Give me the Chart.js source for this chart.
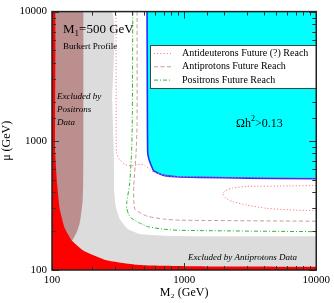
<!DOCTYPE html>
<html>
<head>
<meta charset="utf-8">
<script src="https://cdn.jsdelivr.net/npm/chart.js@4.4.0/dist/chart.umd.min.js"></script>
<style>
  html, body { margin: 0; padding: 0; background: #fff; }
</style>
</head>
<body>
<canvas id="chart" width="334" height="303"></canvas>
<script>
// M1 = 500 GeV panel, Burkert profile. Curves (GeV, GeV)
const SERIF = "'Liberation Serif', 'DejaVu Serif', serif";

const majorTicks = [100, 1000, 10000];

// red band: lowest mu / M2 corner
const lowMuM2 = [100, 105.9, 105.9, 109.6, 114.3, 124.7, 141.6, 172.3, 258.8, 461.5, 1000, 10000];
const lowMuMu = [10000, 10000, 805, 453, 299, 211, 168.4, 141.6, 119, 109.1, 107, 106];

// brown: excluded by positrons data
const posExclM2 = [100, 141.6, 147.8, 155.2, 161.3, 164.7, 168.7, 170.5, 172.6, 173.4, 173.4];
const posExclMu = [150, 168.4, 180.5, 200.3, 226.3, 252.5, 309.5, 337.5, 477.4, 805, 10000];

// grey: excluded by antiprotons data
const pbarExclM2 = [100, 283.8, 286, 293.8, 296, 304.1, 326.1, 374.7, 461.5, 777.7, 10000];
const pbarExclMu = [10000, 10000, 2000, 805, 402, 309.5, 246.9, 207.5, 190.1, 183.7, 182.1];

// cyan: Omega h^2 > 0.13
const relicM2 = [523.9, 527.6, 530.4, 542.5, 565.7, 588.7, 691.8, 873.2, 1309, 3000, 10000];
const relicMu = [10000, 1356, 805, 716.3, 638.8, 585.6, 542.4, 527.6, 521.2, 514, 507.9];

// future reach lines
const dbarM2 = [305, 306, 307.9, 326, 355.6, 399.6, 461.5, 503.4, 549.2, 581.6, 734, 925, 1309, 3000, 10000];
const dbarMu = [10000, 2000, 805, 716, 656.8, 638.8, 656.8, 645.5, 602.1, 575.4, 537, 530, 527, 522, 516];
const dbarIslandM2 = [10000, 6254, 2948, 2335, 2057, 1963, 2057, 2335, 2948, 4173, 6254, 10000];
const dbarIslandMu = [451, 447, 443.3, 430.5, 412, 389.9, 362, 337.5, 318.7, 300.5, 292.2, 287];

const pbarM2 = [440.4, 440.4, 432.8, 415.9, 415.9, 425, 472, 530, 700, 925, 10000];
const pbarMu = [10000, 1356, 805, 453, 337.5, 295, 275, 260, 248, 243, 238.5];

const posM2 = [408.7, 405, 400, 386, 368, 368.2, 380, 396.8, 459.1, 530, 700, 925, 10000];
const posMu = [10000, 1356, 805, 453, 337.5, 299, 270, 252.5, 231.5, 216.7, 207, 202.8, 197.9];

const legendLabels = ['Antideuterons Future (?) Reach', 'Antiprotons Future Reach', 'Positrons Future Reach'];

function pts(xs, ys) {
    return xs.map((x, i) => ({ x: x, y: ys[i] }));
}

function region(xs, ys, color, fill, order) {
    return {
        data: pts(xs, ys), showLine: true, fill: fill, backgroundColor: color,
        borderWidth: 0, borderColor: color, pointRadius: 0, order: order, tension: 0.15
    };
}

function reach(xs, ys, color, dash, order, label) {
    return {
        label: label, data: pts(xs, ys), showLine: true, fill: false,
        borderColor: color, borderWidth: 1, borderDash: dash,
        pointRadius: 0, order: order, tension: 0.2
    };
}

const dbarColor = '#ff7a7a';
const pbarColor = '#c79a9a';
const posColor = '#2fb52f';

const relic = region(relicM2, relicMu, '#00ffff', 'end', 6);
relic.borderWidth = 1.6;
relic.borderColor = '#2a2aff';

const datasets = [
    reach(dbarM2, dbarMu, dbarColor, [1.2, 2], 0, legendLabels[0]),
    reach(dbarIslandM2, dbarIslandMu, dbarColor, [1.2, 2], 0, ''),
    reach(pbarM2, pbarMu, pbarColor, [4, 2.5], 1, legendLabels[1]),
    reach(posM2, posMu, posColor, [4, 2, 1, 2], 2, legendLabels[2]),
    relic,
    region(lowMuM2, lowMuMu, '#ff0000', 'start', 7),
    region(posExclM2, posExclMu, '#bc8f8f', 'end', 8),
    region(pbarExclM2, pbarExclMu, '#dcdcdc', 'start', 9)
];

function isMajor(v) {
    return majorTicks.some(t => Math.abs(t - v) < 1e-6);
}

// texts inside the plot
const annotations = {
    id: 'annotations',
    afterDatasetsDraw(chart) {
        const ctx = chart.ctx;
        const a = chart.chartArea;
        ctx.save();
        ctx.fillStyle = '#000';
        ctx.textBaseline = 'alphabetic';
        ctx.textAlign = 'left';

        let x = a.left + 11, y = a.top + 21;
        ctx.font = '13px ' + SERIF;
        ctx.fillText('M', x, y);
        x += ctx.measureText('M').width;
        ctx.font = '9px ' + SERIF;
        ctx.fillText('1', x, y + 3);
        x += ctx.measureText('1').width;
        ctx.font = '13px ' + SERIF;
        ctx.fillText('=500 GeV', x, y);

        ctx.font = '9px ' + SERIF;
        ctx.fillText('Burkert Profile', a.left + 11, a.top + 37);

        ctx.font = 'italic 9px ' + SERIF;
        ctx.fillText('Excluded by', a.left + 5, a.top + 87);
        ctx.fillText('Positrons', a.left + 5, a.top + 100);
        ctx.fillText('Data', a.left + 5, a.top + 113);
        ctx.fillText('Excluded by Antiprotons Data', a.left + 136, a.top + 248);

        x = a.left + 184; y = a.top + 115;
        ctx.font = '12px ' + SERIF;
        ctx.fillText('\u03A9h', x, y);
        x += ctx.measureText('\u03A9h').width;
        ctx.font = '8px ' + SERIF;
        ctx.fillText('2', x, y - 6);
        x += ctx.measureText('2').width;
        ctx.font = '12px ' + SERIF;
        ctx.fillText('>0.13', x, y);
        ctx.restore();
    }
};

// inward ticks on all sides, legend box, frame
const frame = {
    id: 'frame',
    afterDraw(chart) {
        const ctx = chart.ctx;
        const a = chart.chartArea;
        const xs = chart.scales.x, ys = chart.scales.y;
        ctx.save();
        ctx.strokeStyle = '#333';
        ctx.lineWidth = 1;
        ctx.beginPath();
        xs.ticks.forEach(t => {
            const px = Math.round(xs.getPixelForValue(t.value)) + 0.5;
            const len = isMajor(t.value) ? 7 : 4;
            ctx.moveTo(px, a.bottom); ctx.lineTo(px, a.bottom - len);
            ctx.moveTo(px, a.top); ctx.lineTo(px, a.top + len);
        });
        ys.ticks.forEach(t => {
            const py = Math.round(ys.getPixelForValue(t.value)) + 0.5;
            const len = isMajor(t.value) ? 7 : 4;
            ctx.moveTo(a.left, py); ctx.lineTo(a.left + len, py);
            ctx.moveTo(a.right, py); ctx.lineTo(a.right - len, py);
        });
        ctx.stroke();

        // legend
        const bx = 150, by = 45, bw = 166, bh = 43;
        ctx.fillStyle = '#fff';
        ctx.fillRect(bx, by, bw, bh);
        ctx.strokeStyle = '#444';
        ctx.lineWidth = 1;
        ctx.strokeRect(bx + 0.5, by + 0.5, bw, bh);
        const lined = chart.data.datasets.filter(d => d.label);
        lined.forEach((d, i) => {
            const ry = by + 8.5 + i * 13.3;
            ctx.strokeStyle = d.borderColor;
            ctx.lineWidth = d.borderWidth;
            ctx.setLineDash(d.borderDash);
            ctx.beginPath();
            ctx.moveTo(bx + 4, ry); ctx.lineTo(bx + 21, ry);
            ctx.stroke();
            ctx.setLineDash([]);
            ctx.fillStyle = '#000';
            ctx.font = '10px ' + SERIF;
            ctx.textBaseline = 'middle';
            ctx.fillText(d.label, bx + 32, ry);
        });

        ctx.strokeStyle = '#222';
        ctx.lineWidth = 1.5;
        ctx.strokeRect(a.left, a.top, a.right - a.left, a.bottom - a.top);
        ctx.restore();
    }
};

const tickFont = { family: SERIF, size: 11 };

new Chart(document.getElementById('chart'), {
    type: 'scatter',
    data: { datasets: datasets },
    options: {
        responsive: false,
        animation: false,
        events: [],
        layout: { padding: { top: 5, right: 17, left: 0, bottom: 0 } },
        plugins: { legend: { display: false }, tooltip: { enabled: false } },
        scales: {
            x: {
                type: 'logarithmic', min: 100, max: 10000,
                afterFit: s => { s.height = 33; },
                grid: { display: false, drawTicks: false },
                border: { display: false },
                ticks: {
                    autoSkip: false, maxRotation: 0, padding: 4, color: '#000', font: tickFont,
                    callback: v => isMajor(v) ? String(Math.round(v)) : ''
                },
                title: { display: true, text: 'M\u2082 (GeV)', color: '#000', font: { family: SERIF, size: 12 }, padding: { top: 0, bottom: 3 } }
            },
            y: {
                type: 'logarithmic', min: 100, max: 10000,
                afterFit: s => { s.width = 52; },
                grid: { display: false, drawTicks: false },
                border: { display: false },
                ticks: {
                    autoSkip: false, padding: 5, color: '#000', font: tickFont,
                    callback: v => isMajor(v) ? String(Math.round(v)) : ''
                },
                title: { display: true, text: '\u03BC (GeV)', color: '#000', font: { family: SERIF, size: 12 }, padding: { top: 0, bottom: 0 } }
            }
        }
    },
    plugins: [annotations, frame]
});
</script>
</body>
</html>
